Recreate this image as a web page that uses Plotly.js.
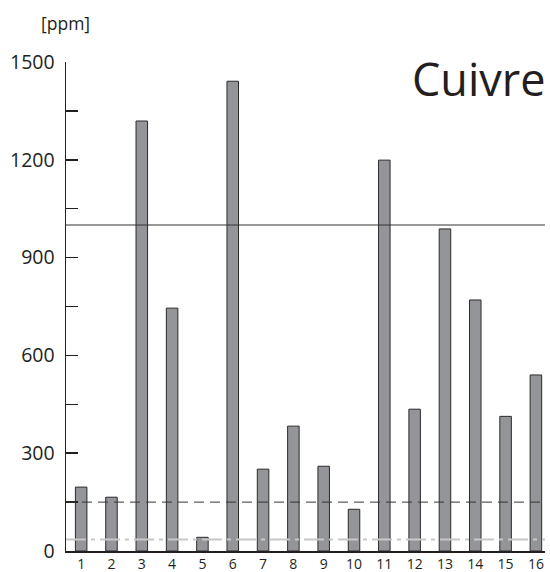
<!DOCTYPE html>
<html><head><meta charset="utf-8">
<script src="https://cdn.plot.ly/plotly-3.0.1.min.js"></script>
<style>body{margin:0;background:#fff}#c{width:550px;height:572px}</style>
</head><body><div id="c"></div>
<script>
var categories = [1,2,3,4,5,6,7,8,9,10,11,12,13,14,15,16];
var copperPpm = [196,165,1319,745,42,1441,251,383,260,128,1199,435,988,770,413,540];
var yTickVals = [0,150,300,450,600,750,900,1050,1200,1350,1500];
var yTickText = ['0','','300','','600','','900','','1200','','1500'];
var solidLimit = 1000;
var dashedLimit = 150;
var dashDotLimit = 35;

var font = "Open Sans, Noto Sans, sans-serif";
var trace = {
  type: 'bar', x: categories, y: copperPpm, width: 0.38,
  marker: {color: '#939598', line: {color: '#2b2b2b', width: 1}},
  hoverinfo: 'none'
};
var layout = {
  width: 550, height: 572,
  margin: {l: 66, r: 5, t: 62, b: 21},
  paper_bgcolor: '#fff', plot_bgcolor: '#fff',
  showlegend: false,
  font: {family: font, color: '#231f20'},
  xaxis: {
    range: [0.5, 16.3], tickvals: categories, ticktext: categories.map(String),
    showgrid: false, zeroline: false, showline: true, linecolor: '#231f20', linewidth: 1.5,
    ticks: '', tickfont: {size: 14, family: font}, ticklabelstandoff: 0
  },
  yaxis: {
    range: [0, 1500], tickvals: yTickVals, ticktext: yTickText,
    showgrid: false, zeroline: false, showline: true, linecolor: '#231f20', linewidth: 1.5,
    ticks: 'inside', ticklen: 12, tickwidth: 1.5, tickcolor: '#231f20',
    tickfont: {size: 19.5, family: font}, ticklabelstandoff: 6
  },
  shapes: [
    {type: 'line', xref: 'paper', x0: 0, x1: 1, yref: 'y', y0: solidLimit, y1: solidLimit, layer: 'above', line: {color: '#333', width: 1}},
    {type: 'line', xref: 'paper', x0: 0, x1: 1, yref: 'y', y0: dashedLimit, y1: dashedLimit, layer: 'above', line: {color: '#333', width: 1, dash: '10px,6px'}},
    {type: 'line', xref: 'paper', x0: 0, x1: 1, yref: 'y', y0: dashDotLimit, y1: dashDotLimit, layer: 'above', line: {color: '#c8c8c8', width: 2, dash: '20px,5px,4px,5px'}}
  ],
  annotations: [
    {text: '[ppm]', xref: 'paper', yref: 'paper', x: -0.001, y: 1.08, xanchor: 'center', yanchor: 'middle', showarrow: false, font: {size: 17.5, family: font, color: '#231f20'}},
    {text: 'Cuivre', xref: 'paper', yref: 'paper', x: 1.005, y: 1.032, xanchor: 'right', yanchor: 'top', showarrow: false, font: {size: 45, family: font, color: '#231f20'}}
  ]
};
Plotly.newPlot('c', [trace], layout, {staticPlot: true, displayModeBar: false});
</script></body></html>
